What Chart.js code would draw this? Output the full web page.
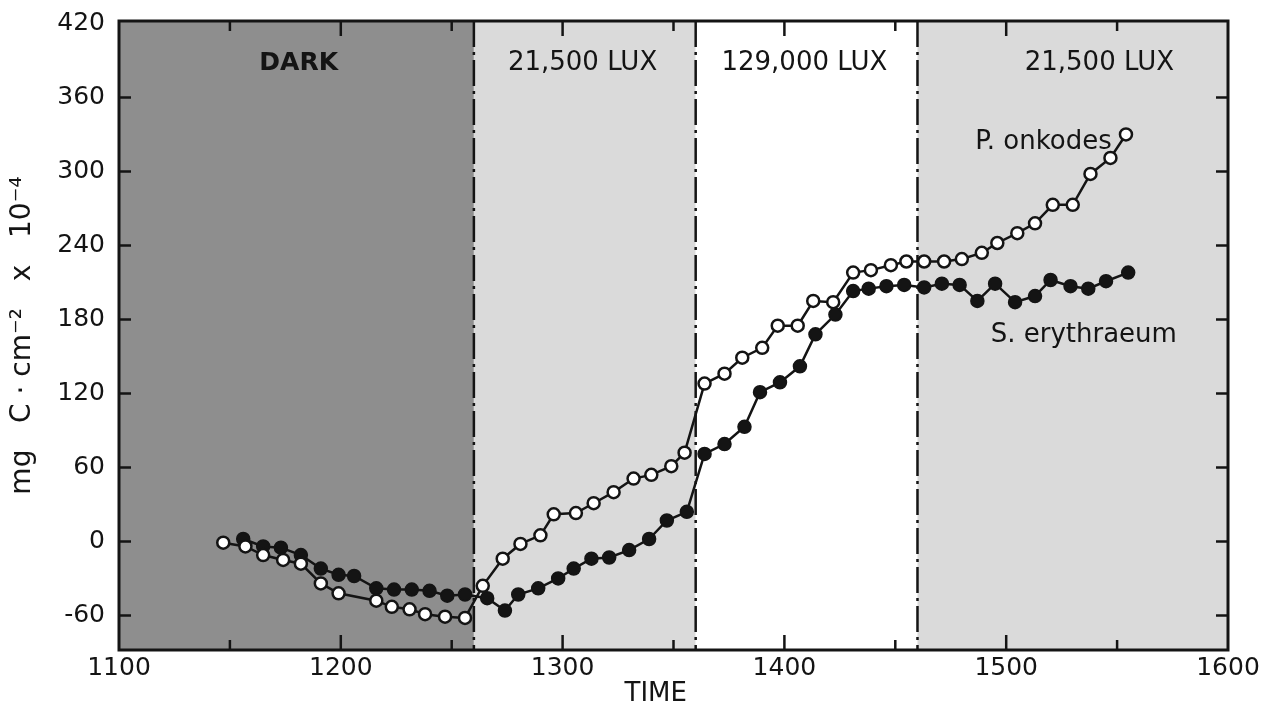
<!DOCTYPE html>
<html>
<head>
<meta charset="utf-8">
<title>Carbon uptake over time</title>
<script src="https://cdn.jsdelivr.net/npm/chart.js@4.4.1/dist/chart.umd.min.js"></script>
<style>
  html, body { margin: 0; padding: 0; background: #fff; }
  #wrap { width: 1274px; height: 716px; }
</style>
</head>
<body>
<div id="wrap"><canvas id="timeChart" width="1274" height="716"></canvas></div>
<script>
// P. onkodes (open circles)
const pTime  = [1147,1157,1165,1174,1182,1191,1199,1216,1223,1231,1238,1247,1256,1264,1273,1281,1290,1296,1306,1314,
                1323,1332,1340,1349,1355,1364,1373,1381,1390,1397,1406,1413,1422,1431,1439,1448,1455,1463,1472,1480,
                1489,1496,1505,1513,1521,1530,1538,1547,1554];
const pValue = [-1,-4,-11,-15,-18,-34,-42,-48,-53,-55,-59,-61,-62,-36,-14,-2,5,22,23,31,
                40,51,54,61,72,128,136,149,157,175,175,195,194,218,220,224,227,227,227,229,
                234,242,250,258,273,273,298,311,330];

// S. erythraeum (filled circles)
const sTime  = [1156,1165,1173,1182,1191,1199,1206,1216,1224,1232,1240,1248,1256,1266,1274,1280,1289,1298,1305,1313,
                1321,1330,1339,1347,1356,1364,1373,1382,1389,1398,1407,1414,1423,1431,1438,1446,1454,1463,1471,1479,
                1487,1495,1504,1513,1520,1529,1537,1545,1555];
const sValue = [2,-4,-5,-11,-22,-27,-28,-38,-39,-39,-40,-44,-43,-46,-56,-43,-38,-30,-22,-14,
                -13,-7,2,17,24,71,79,93,121,129,142,168,184,203,205,207,208,206,209,208,
                195,209,194,199,212,207,205,211,218];

// light phases
const phaseEdges   = [1100, 1260, 1360, 1460, 1600];
const phaseNames   = ['DARK', '21,500 LUX', '129,000 LUX', '21,500 LUX'];
const phaseLabelAt = [1181, 1309, 1409, 1542];

const yTickValues  = [-60, 0, 60, 120, 180, 240, 300, 360, 420];
const seriesNames  = ['P. onkodes', 'S. erythraeum'];
const seriesLabelAt = [[1486, 318], [1493, 162]];

const ink = '#141414';
const phaseFill = ['#8e8e8e', '#dadada', '#ffffff', '#dadada'];
const FONT = 'DejaVu Sans';

const toPoints = (xs, ys) => xs.map((t, i) => ({ x: t, y: ys[i] }));

const panelPlugin = {
  id: 'panel',
  beforeDatasetsDraw(chart) {
    const { ctx, chartArea: a, scales: { x } } = chart;
    ctx.save();
    // shaded phases
    for (let i = 0; i < phaseNames.length; i++) {
      const x0 = x.getPixelForValue(phaseEdges[i]);
      const x1 = x.getPixelForValue(phaseEdges[i + 1]);
      ctx.fillStyle = phaseFill[i];
      ctx.fillRect(x0, a.top, x1 - x0, a.bottom - a.top);
    }
    // dash-dot boundaries
    ctx.strokeStyle = ink;
    ctx.lineWidth = 2.5;
    ctx.setLineDash([26, 5, 3, 5]);
    for (let i = 1; i < phaseEdges.length - 1; i++) {
      const px = x.getPixelForValue(phaseEdges[i]);
      ctx.beginPath();
      ctx.moveTo(px, a.top);
      ctx.lineTo(px, a.bottom);
      ctx.stroke();
    }
    ctx.setLineDash([]);
    // phase labels
    ctx.fillStyle = ink;
    ctx.textAlign = 'center';
    ctx.textBaseline = 'middle';
    phaseNames.forEach((name, i) => {
      ctx.font = (i === 0 ? 'bold 25px ' : '26px ') + FONT;
      ctx.fillText(name, x.getPixelForValue(phaseLabelAt[i]), a.top + 42);
    });
    ctx.restore();
  },
  afterDatasetsDraw(chart) {
    const { ctx, chartArea: a, scales: { x, y } } = chart;
    ctx.save();
    ctx.strokeStyle = ink;
    ctx.lineWidth = 3;
    ctx.strokeRect(a.left, a.top, a.right - a.left, a.bottom - a.top);

    // inward ticks
    ctx.lineWidth = 2.5;
    ctx.beginPath();
    for (let v = x.min + 50; v < x.max; v += 50) {
      const px = x.getPixelForValue(v);
      const len = v % 100 === 0 ? 15 : 10;
      ctx.moveTo(px, a.bottom); ctx.lineTo(px, a.bottom - len);
      ctx.moveTo(px, a.top);    ctx.lineTo(px, a.top + len);
    }
    yTickValues.slice(0, -1).forEach(v => {
      const py = y.getPixelForValue(v);
      ctx.moveTo(a.left, py);  ctx.lineTo(a.left + 12, py);
      ctx.moveTo(a.right, py); ctx.lineTo(a.right - 12, py);
    });
    ctx.stroke();

    // series names
    ctx.fillStyle = ink;
    ctx.font = '26px ' + FONT;
    ctx.textAlign = 'left';
    ctx.textBaseline = 'alphabetic';
    seriesNames.forEach((name, i) => {
      ctx.fillText(name, x.getPixelForValue(seriesLabelAt[i][0]), y.getPixelForValue(seriesLabelAt[i][1]));
    });

    // x axis title
    ctx.textAlign = 'center';
    ctx.textBaseline = 'middle';
    ctx.fillText('TIME', x.getPixelForValue(1342), 694);
    ctx.restore();
  }
};

new Chart(document.getElementById('timeChart'), {
  type: 'line',
  data: {
    datasets: [{
      label: seriesNames[0],
      data: toPoints(pTime, pValue),
      borderColor: ink,
      borderWidth: 2.5,
      pointRadius: 6,
      pointBorderWidth: 2.5,
      pointBorderColor: ink,
      pointBackgroundColor: '#ffffff'
    }, {
      label: seriesNames[1],
      data: toPoints(sTime, sValue),
      borderColor: ink,
      borderWidth: 2.5,
      pointRadius: 6.5,
      pointBorderWidth: 1.5,
      pointBorderColor: ink,
      pointBackgroundColor: ink
    }]
  },
  options: {
    responsive: false,
    animation: false,
    layout: { padding: { left: 4, right: 46, top: 18, bottom: 0 } },
    plugins: { legend: { display: false }, tooltip: { enabled: false } },
    scales: {
      x: {
        type: 'linear',
        min: 1100,
        max: 1600,
        grid: { display: false },
        border: { display: false },
        ticks: {
          stepSize: 100, padding: -5, maxRotation: 0, color: ink,
          font: { family: FONT, size: 25 },
          callback: v => String(v)
        },
        afterFit: s => { s.height = 66; }
      },
      y: {
        min: -88,
        max: 422,
        grid: { display: false },
        border: { display: false },
        afterBuildTicks: s => { s.ticks = yTickValues.map(v => ({ value: v })); },
        ticks: { padding: 6, color: ink, font: { family: FONT, size: 25 }, callback: v => String(v) },
        title: {
          display: true,
          text: 'mg   C · cm\u207B\u00B2   x   10\u207B\u2074',
          color: ink,
          padding: 2,
          font: { family: FONT, size: 28 }
        },
        afterFit: s => { s.width = 115; }
      }
    }
  },
  plugins: [panelPlugin]
});
</script>
</body>
</html>
